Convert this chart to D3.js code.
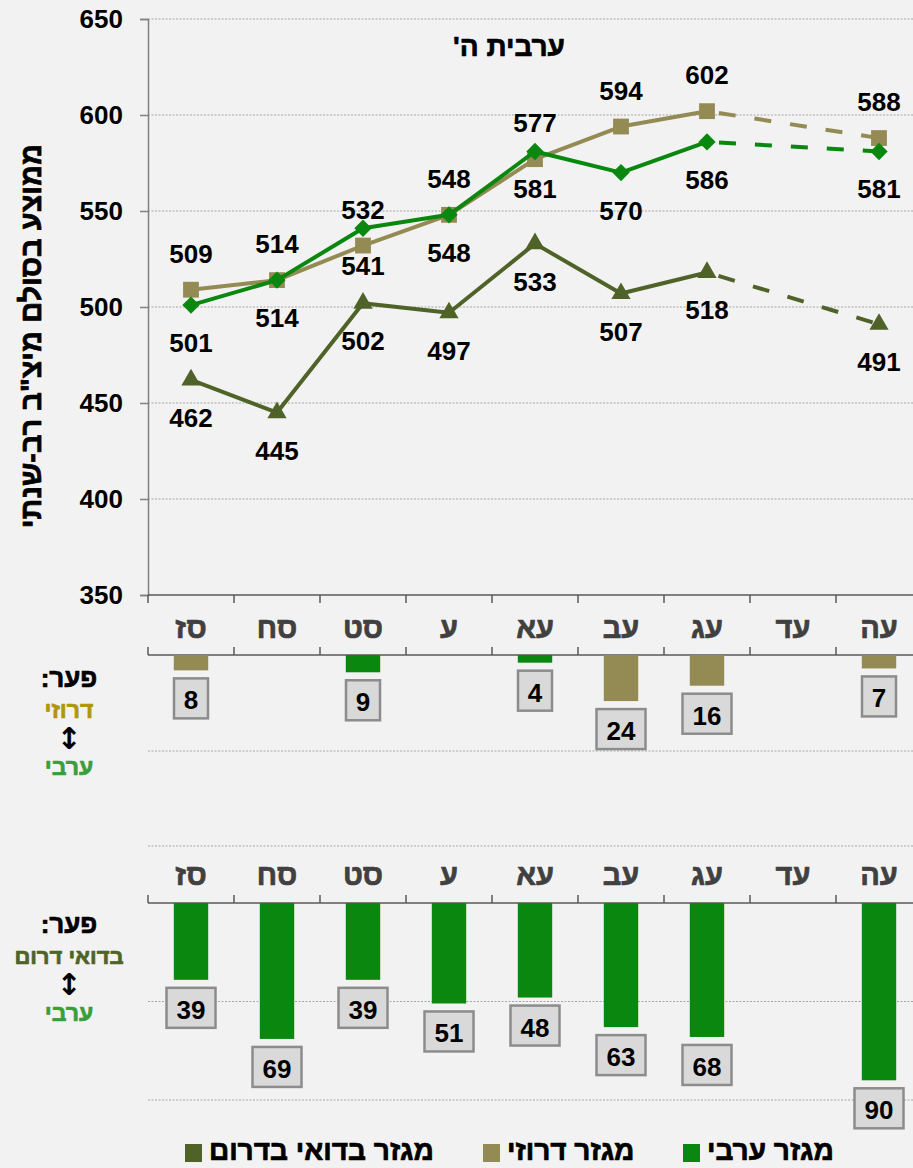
<!DOCTYPE html>
<html>
<head>
<meta charset="utf-8">
<script src="https://cdn.jsdelivr.net/npm/d3@7"></script>
<style>
  html, body { margin: 0; padding: 0; background: #f2f2f2; }
  svg { display: block; font-family: "Liberation Sans", Arial, sans-serif; font-weight: bold; }
  .heb { paint-order: stroke; stroke-width: 0.7px; stroke-linejoin: round; }
</style>
</head>
<body>
<svg id="chart"></svg>
<script>
// years (Hebrew calendar) on the category axis
const years = ["סז", "סח", "סט", "ע", "עא", "עב", "עג", "עד", "עה"];

// average scores per sector (null = no test that year)
const arabScores = [501, 514, 541, 548, 581, 570, 586, null, 581];
const druzeScores = [509, 514, 532, 548, 577, 594, 602, null, 588];
const bedouinScores = [462, 445, 502, 497, 533, 507, 518, null, 491];

// gap druze <-> arab (positive = druze higher, negative = arab higher)
const druzeArabGap = [8, 0, -9, 0, -4, 24, 16, null, 7];
// gap bedouin south <-> arab
const bedouinArabGap = [39, 69, 39, 51, 48, 63, 68, null, 90];

const yTicks = [350, 400, 450, 500, 550, 600, 650];
const legendNames = ["מגזר ערבי", "מגזר דרוזי", "מגזר בדואי בדרום"];

const width = 913, height = 1168;
const colArab = "#0a870f", colDruze = "#948a54", colBedouin = "#4f6228";
const axisCol = "#595959", gridCol = "#a6a6a6";

const svg = d3.select("#chart").attr("width", width).attr("height", height);

// hebrew text, slightly thickened to look like the heavy bold of the original
function heb(sel, color) {
  return sel.attr("class", "heb").attr("fill", color).attr("stroke", color);
}

// scales
const x = d3.scaleBand().domain(years).range([148, 922]).paddingInner(0.6).paddingOuter(0.3);
const cx = (d) => x(d) + x.bandwidth() / 2;
const step = x.step();
const y = d3.scaleLinear().domain([350, 650]).range([595, 19]);
const yGap1 = d3.scaleLinear().domain([0, 50]).range([655, 751]);
const yGap2 = d3.scaleLinear().domain([0, 100]).range([903, 1100]);

// ---------- top line chart ----------
svg.append("g")
  .selectAll("line")
  .data(yTicks.slice(1))
  .join("line")
  .attr("x1", 148).attr("x2", width)
  .attr("y1", (d) => y(d)).attr("y2", (d) => y(d))
  .attr("stroke", gridCol).attr("stroke-dasharray", "2,1.5");

const yAxis = svg.append("g")
  .attr("transform", "translate(148,0)")
  .call(d3.axisLeft(y).tickValues(yTicks).tickSize(8).tickPadding(17));
yAxis.select(".domain").attr("stroke", "#808080").attr("stroke-width", 1.5);
yAxis.selectAll(".tick line").attr("stroke", "#808080").attr("stroke-width", 1.5);
yAxis.selectAll("text").attr("font-size", 26).attr("font-family", "Liberation Sans, Arial, sans-serif")
  .attr("font-weight", "bold").attr("fill", "#000");

heb(svg.append("text"), "#000")
  .attr("transform", "translate(41,336) rotate(-90)")
  .attr("direction", "rtl")
  .attr("text-anchor", "middle")
  .attr("font-size", 29)
  .text('ממוצע בסולם מיצ"ב רב-שנתי');

heb(svg.append("text"), "#000")
  .attr("x", 509).attr("y", 56)
  .attr("direction", "rtl")
  .attr("text-anchor", "middle")
  .attr("font-size", 28)
  .text("ערבית ה'");

// category axes (shared between top chart and druze gap chart, and bottom chart)
function catAxis(yLine, tickDir) {
  const g = svg.append("g");
  g.append("line").attr("x1", 148).attr("x2", width).attr("y1", yLine).attr("y2", yLine)
    .attr("stroke", axisCol).attr("stroke-width", 1.5);
  g.selectAll(".tk")
    .data(d3.range(years.length + 1))
    .join("line")
    .attr("x1", (i) => 148 + i * step).attr("x2", (i) => 148 + i * step)
    .attr("y1", yLine).attr("y2", yLine + tickDir * 8)
    .attr("stroke", axisCol).attr("stroke-width", 1.5);
}
function catLabels(baseY) {
  heb(svg.append("g")
    .selectAll("text")
    .data(years)
    .join("text"), "#404040")
    .attr("x", (d) => cx(d)).attr("y", baseY)
    .attr("text-anchor", "middle")
    .attr("font-size", 29)
    .text((d) => d);
}

catAxis(595, 1);
catAxis(655, -1);
catLabels(638);

const line = d3.line().x((d) => cx(d.year)).y((d) => y(d.value));

const series = [
  { values: druzeScores, color: colDruze, marker: "square", labelDy: -27 },
  { values: bedouinScores, color: colBedouin, marker: "triangle", labelDy: 47 },
  { values: arabScores, color: colArab, marker: "diamond", labelDy: 47 },
];

series.forEach((s) => {
  const pts = years.map((yr, i) => ({ year: yr, value: s.values[i] }));
  const solid = pts.slice(0, 7);
  const dashed = [pts[6], pts[8]];
  svg.append("path").datum(solid).attr("d", line)
    .attr("fill", "none").attr("stroke", s.color).attr("stroke-width", 4).attr("stroke-linejoin", "round");
  svg.append("path").datum(dashed).attr("d", line)
    .attr("fill", "none").attr("stroke", s.color).attr("stroke-width", 4)
    .attr("stroke-dasharray", "17,19").attr("stroke-dashoffset", -12);

  const valid = pts.filter((p) => p.value != null);
  let sym;
  if (s.marker === "square") sym = d3.symbol(d3.symbolSquare, 250);
  else if (s.marker === "diamond") sym = d3.symbol(d3.symbolSquare, 150);
  else sym = d3.symbol(d3.symbolTriangle, 160);
  svg.append("g")
    .selectAll("path")
    .data(valid)
    .join("path")
    .attr("d", sym)
    .attr("transform", (d) => `translate(${cx(d.year)},${y(d.value)})` + (s.marker === "diamond" ? " rotate(45)" : ""))
    .attr("fill", s.color);

  s.valid = valid;
});

// data labels on top
series.forEach((s) => {
  svg.append("g")
    .selectAll("text")
    .data(s.valid)
    .join("text")
    .attr("x", (d) => cx(d.year)).attr("y", (d) => y(d.value) + s.labelDy)
    .attr("text-anchor", "middle")
    .attr("font-size", 26)
    .attr("fill", "#000")
    .text((d) => d.value);
});

// ---------- gap charts ----------
function boxLabel(g, data, scale) {
  const items = g.selectAll(".lbl").data(data).join("g").attr("class", "lbl");
  items.append("rect")
    .attr("x", (d) => cx(d.year) - (String(Math.abs(d.value)).length * 15 + 19) / 2)
    .attr("y", (d) => scale(Math.abs(d.value)) + 8)
    .attr("width", (d) => String(Math.abs(d.value)).length * 15 + 19)
    .attr("height", 40)
    .attr("fill", "#d9d9d9").attr("stroke", "#8c8c8c").attr("stroke-width", 2.5);
  items.append("text")
    .attr("x", (d) => cx(d.year))
    .attr("y", (d) => scale(Math.abs(d.value)) + 39)
    .attr("text-anchor", "middle")
    .attr("font-size", 26)
    .attr("fill", "#000")
    .text((d) => Math.abs(d.value));
}

// druze <-> arab
svg.append("line").attr("x1", 148).attr("x2", width).attr("y1", yGap1(50)).attr("y2", yGap1(50))
  .attr("stroke", gridCol).attr("stroke-dasharray", "2,1.5");
const gap1 = years.map((yr, i) => ({ year: yr, value: druzeArabGap[i] })).filter((d) => d.value);
const g1 = svg.append("g");
g1.selectAll("rect.bar")
  .data(gap1)
  .join("rect")
  .attr("class", "bar")
  .attr("x", (d) => x(d.year)).attr("width", x.bandwidth())
  .attr("y", yGap1(0))
  .attr("height", (d) => yGap1(Math.abs(d.value)) - yGap1(0))
  .attr("fill", (d) => (d.value > 0 ? colDruze : colArab));
boxLabel(g1, gap1, yGap1);

// bedouin <-> arab
svg.append("g")
  .selectAll("line")
  .data([50, 100])
  .join("line")
  .attr("x1", 148).attr("x2", width)
  .attr("y1", (d) => yGap2(d)).attr("y2", (d) => yGap2(d))
  .attr("stroke", gridCol).attr("stroke-dasharray", "2,1.5");
svg.append("line").attr("x1", 148).attr("x2", width).attr("y1", 846).attr("y2", 846)
  .attr("stroke", gridCol).attr("stroke-dasharray", "2,1.5");
catAxis(903, -1);
catLabels(885);
const gap2 = years.map((yr, i) => ({ year: yr, value: bedouinArabGap[i] })).filter((d) => d.value);
const g2 = svg.append("g");
g2.selectAll("rect.bar")
  .data(gap2)
  .join("rect")
  .attr("class", "bar")
  .attr("x", (d) => x(d.year)).attr("width", x.bandwidth())
  .attr("y", yGap2(0))
  .attr("height", (d) => yGap2(d.value) - yGap2(0))
  .attr("fill", colArab);
boxLabel(g2, gap2, yGap2);

// side notes
function sideNote(top, secondText, secondColor, secondSize) {
  const g = svg.append("g").attr("text-anchor", "middle").attr("direction", "rtl");
  heb(g.append("text"), "#000").attr("x", 69).attr("y", top).attr("font-size", 26).text("פער:");
  heb(g.append("text"), secondColor).attr("x", 69).attr("y", top + 31).attr("font-size", secondSize).text(secondText);
  g.append("text").attr("x", 69).attr("y", top + 62).attr("font-size", 30)
    .attr("font-family", "DejaVu Sans").attr("fill", "#000").text("↕");
  heb(g.append("text"), "#3a9e3a").attr("x", 69).attr("y", top + 88).attr("font-size", 23).text("ערבי");
}
sideNote(687, "דרוזי", "#b0960c", 23);
sideNote(933, "בדואי דרום", "#4f6228", 22);

// legend
const legendItems = [
  { name: legendNames[0], color: colArab, x: 683 },
  { name: legendNames[1], color: colDruze, x: 483 },
  { name: legendNames[2], color: colBedouin, x: 185 },
];
const lg = svg.append("g");
legendItems.forEach((d) => {
  lg.append("rect").attr("x", d.x).attr("y", 1144).attr("width", 17).attr("height", 18).attr("fill", d.color);
  heb(lg.append("text"), "#000").attr("x", d.x + 24).attr("y", 1160).attr("font-size", 28).text(d.name);
});
</script>
</body>
</html>
